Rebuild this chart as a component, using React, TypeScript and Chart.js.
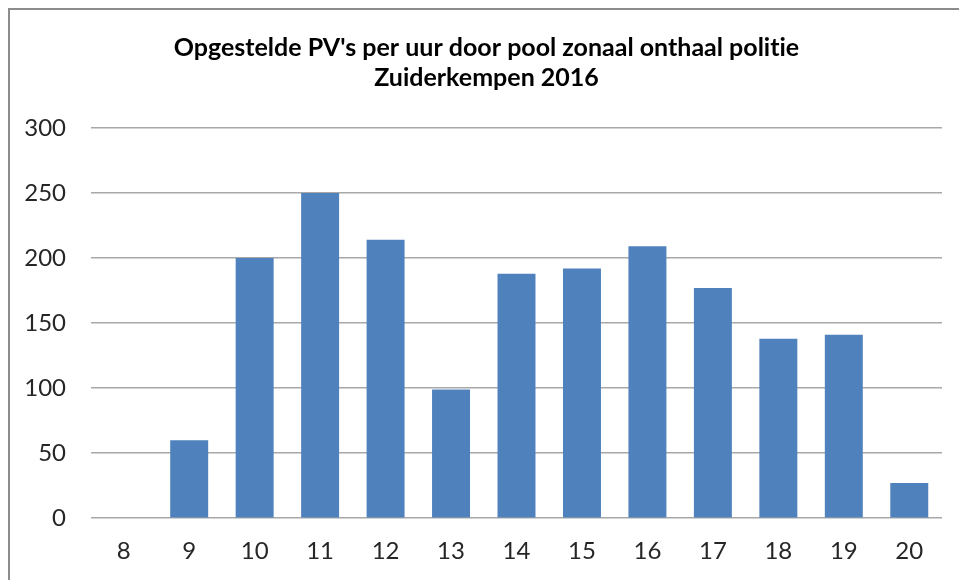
import React, { useEffect, useRef } from "react";
import { Chart, registerables } from "chart.js";

Chart.register(...registerables);

const titleLines = ["Opgestelde PV's per uur door pool zonaal onthaal politie", "Zuiderkempen 2016"];
const hours = ["8", "9", "10", "11", "12", "13", "14", "15", "16", "17", "18", "19", "20"];
const pvCounts = [0, 60, 200, 250, 214, 99, 188, 192, 209, 177, 138, 141, 27];
const yMin = 0;
const yMax = 300;
const yStep = 50;

const noLigatures = {
  id: "noLigatures",
  beforeDraw(chart: any) {
    const ctx = chart.ctx as any;
    ctx.textRendering = "optimizeSpeed";
  },
};

const titleShift = {
  id: "titleShift",
  afterLayout(chart: any) {
    if (chart.titleBlock) {
      chart.titleBlock.left = 21;
    }
  },
};

export default function App() {
  const canvasRef = useRef<HTMLCanvasElement | null>(null);

  useEffect(() => {
    if (!canvasRef.current) return;
    const chart = new Chart(canvasRef.current, {
      type: "bar",
      data: {
        labels: hours,
        datasets: [
          {
            data: pvCounts,
            backgroundColor: "#4F81BD",
            borderWidth: 0,
            barPercentage: 0.58,
            categoryPercentage: 1,
          },
        ],
      },
      plugins: [noLigatures, titleShift],
      options: {
        responsive: false,
        animation: false,
        layout: { padding: { top: 8, right: 17, bottom: -5, left: 0 } },
        plugins: {
          legend: { display: false },
          tooltip: { enabled: false },
          title: {
            display: true,
            text: titleLines,
            color: "#000000",
            font: { family: "Lato", size: 25, weight: "bold", lineHeight: 30 / 25 },
            padding: { top: 15, bottom: 35 },
          },
        },
        scales: {
          x: {
            grid: { display: false, drawTicks: false },
            border: { display: false },
            ticks: {
              color: "#262626",
              font: { family: "Lato", size: 24 },
              padding: 19,
            },
          },
          y: {
            min: yMin,
            max: yMax,
            grid: { color: "#a8a8a8", lineWidth: 1.5, drawTicks: false },
            border: { display: false },
            ticks: {
              stepSize: yStep,
              color: "#262626",
              font: { family: "Lato", size: 24 },
              padding: 25,
            },
            afterFit: (scale: any) => {
              scale.width = 81;
            },
          },
        },
      },
    });
    return () => chart.destroy();
  }, []);

  return (
    <div
      style={{
        position: "fixed",
        left: 8,
        top: 8,
        width: 960,
        height: 580,
        borderLeft: "2px solid #8c8c8c",
        borderTop: "2px solid #8c8c8c",
        background: "#ffffff",
      }}
    >
      <canvas
        ref={canvasRef}
        width={949}
        height={570}
        style={{ display: "block", width: 949, height: 570 }}
      />
    </div>
  );
}
